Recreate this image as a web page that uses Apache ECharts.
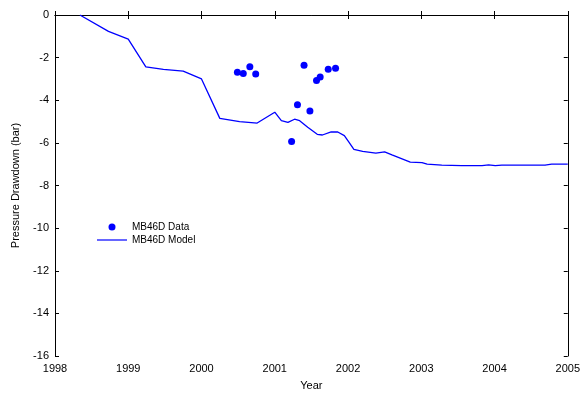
<!DOCTYPE html>
<html>
<head>
<meta charset="utf-8">
<script src="https://cdn.jsdelivr.net/npm/echarts@6/dist/echarts.min.js"></script>
<style>
  html, body { margin: 0; padding: 0; background: #fff; }
  #chart { width: 583px; height: 398px; }
</style>
</head>
<body>
<div id="chart"></div>
<script>
// model curve (year, drawdown in bar)
const modelYears = [1998.34, 1998.73, 1999.0, 1999.24, 1999.48, 1999.75, 2000.0, 2000.25, 2000.52, 2000.76,
  2001.0, 2001.09, 2001.18, 2001.27, 2001.34, 2001.45, 2001.58, 2001.65, 2001.77, 2001.86, 2001.95,
  2002.01, 2002.08, 2002.2, 2002.38, 2002.5, 2002.6, 2002.85, 2003.01, 2003.08, 2003.28, 2003.55,
  2003.83, 2003.92, 2004.01, 2004.1, 2004.69, 2004.78, 2005.0]
const modelValues = [0, -0.77, -1.13, -2.43, -2.55, -2.63, -3.0, -4.85, -5.0, -5.07,
  -4.56, -4.96, -5.04, -4.89, -4.96, -5.27, -5.6, -5.63, -5.48, -5.49, -5.66,
  -5.95, -6.31, -6.4, -6.48, -6.42, -6.56, -6.9, -6.93, -7.0, -7.04, -7.07,
  -7.07, -7.03, -7.07, -7.04, -7.04, -7.0, -7.0]

// measured points
const dataYears = [2000.49, 2000.57, 2000.66, 2000.74, 2001.23, 2001.31, 2001.40, 2001.48, 2001.57, 2001.62, 2001.73, 2001.83]
const dataValues = [-2.69, -2.74, -2.43, -2.77, -5.93, -4.21, -2.36, -4.51, -3.07, -2.91, -2.55, -2.5]

const xTicks = ['1998', '1999', '2000', '2001', '2002', '2003', '2004', '2005']
const yTicks = ['0', '-2', '-4', '-6', '-8', '-10', '-12', '-14', '-16']

const chart = echarts.init(document.getElementById('chart'))
const font = 'Liberation Sans, Arial, sans-serif'
const axisLine = { show: true, lineStyle: { color: '#000', width: 1 } }
const tickIn = { show: true, inside: true, length: 4, lineStyle: { color: '#000' } }

chart.setOption({
  animation: false,
  grid: { left: 55, right: 13, top: 15, bottom: 42 },
  legend: {
    orient: 'vertical',
    left: 97,
    top: 222,
    padding: 0,
    itemWidth: 30,
    itemHeight: 7,
    itemGap: 3,
    textStyle: { fontFamily: font, fontSize: 10, color: '#000' },
    data: [
      { name: 'MB46D Data', icon: 'circle' },
      { name: 'MB46D Model', icon: 'path://M0,0 L30,0 L30,1.2 L0,1.2 Z' }
    ]
  },
  xAxis: [{
    type: 'value', min: 1998, max: 2005, interval: 1,
    name: 'Year', nameLocation: 'middle', nameGap: 24,
    nameTextStyle: { fontFamily: font, fontSize: 11, color: '#000' },
    axisLine: axisLine, axisTick: tickIn, splitLine: { show: false },
    axisLabel: { fontFamily: font, fontSize: 11, color: '#000', margin: 7,
      formatter: v => xTicks[Math.round(v - 1998)] }
  }, {
    type: 'value', min: 1998, max: 2005, interval: 1, position: 'top',
    axisLine: axisLine, axisTick: tickIn, axisLabel: { show: false }, splitLine: { show: false }
  }],
  yAxis: [{
    type: 'value', min: -16, max: 0, interval: 2,
    name: 'Pressure Drawdown (bar)', nameLocation: 'middle', nameGap: 34,
    nameTextStyle: { fontFamily: font, fontSize: 11, color: '#000' },
    axisLine: axisLine, axisTick: tickIn, splitLine: { show: false },
    axisLabel: { fontFamily: font, fontSize: 11, color: '#000', margin: 6,
      formatter: v => yTicks[Math.round(-v / 2)] }
  }, {
    type: 'value', min: -16, max: 0, interval: 2, position: 'right',
    axisLine: axisLine, axisTick: tickIn, axisLabel: { show: false }, splitLine: { show: false }
  }],
  series: [{
    name: 'MB46D Data',
    type: 'scatter',
    symbol: 'circle',
    symbolSize: 7,
    itemStyle: { color: '#0000ff', opacity: 1 },
    data: dataYears.map((x, i) => [x, dataValues[i]])
  }, {
    name: 'MB46D Model',
    type: 'line',
    symbol: 'none',
    lineStyle: { color: '#0000ff', width: 1.3 },
    itemStyle: { color: '#0000ff' },
    data: modelYears.map((x, i) => [x, modelValues[i]])
  }]
})
</script>
</body>
</html>
